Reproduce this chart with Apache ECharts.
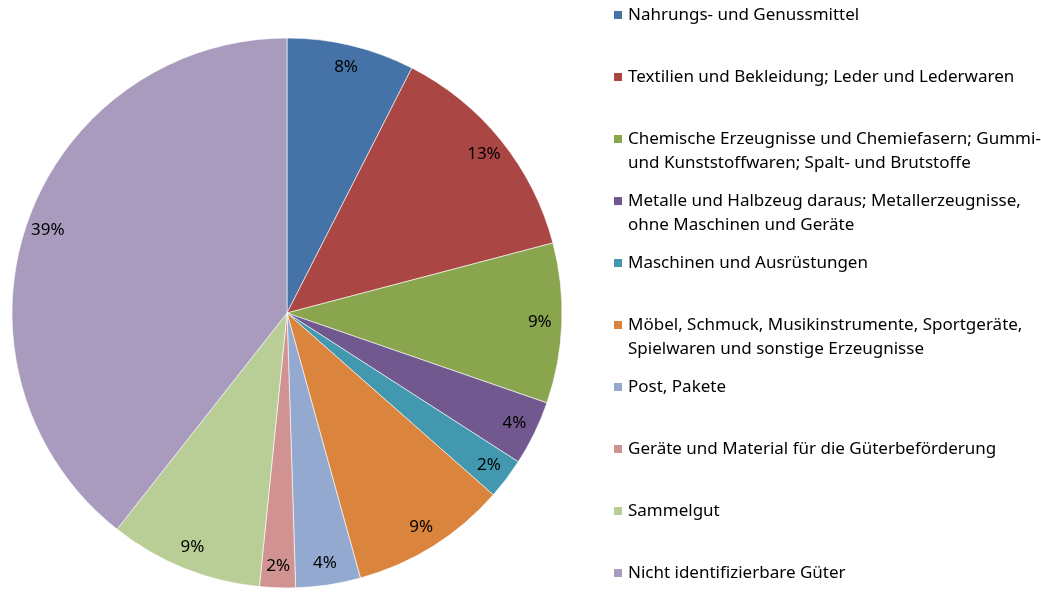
<!DOCTYPE html>
<html>
<head>
<meta charset="utf-8">
<title>Güterstruktur</title>
<style>
  html, body { margin: 0; padding: 0; background: #fff; }
  #chart { width: 1041px; height: 594px; }
</style>
<script src="https://cdn.jsdelivr.net/npm/echarts/dist/echarts.min.js"></script>
</head>
<body>
<div id="chart"></div>
<script>
// Gütergruppen (Legende), Zeilenumbruch wie im Original
const categories = [
  'Nahrungs- und Genussmittel',
  'Textilien und Bekleidung; Leder und Lederwaren',
  'Chemische Erzeugnisse und Chemiefasern; Gummi-\nund Kunststoffwaren; Spalt- und Brutstoffe',
  'Metalle und Halbzeug daraus; Metallerzeugnisse,\nohne Maschinen und Geräte',
  'Maschinen und Ausrüstungen',
  'Möbel, Schmuck, Musikinstrumente, Sportgeräte,\nSpielwaren und sonstige Erzeugnisse',
  'Post, Pakete',
  'Geräte und Material für die Güterbeförderung',
  'Sammelgut',
  'Nicht identifizierbare Güter'
]
const shares = [7.5, 13.4, 9.4, 3.8, 2.4, 9.2, 3.8, 2.1, 9.0, 39.4]
const colors = ['#4572A7', '#AA4643', '#89A54E', '#71588F', '#4198AF',
  '#DB843D', '#93A9CF', '#D19392', '#B9CD96', '#A99BBD']

const font = 'Noto Sans'
const chart = echarts.init(document.getElementById('chart'))

const pieData = categories.map((name, i) => ({ name: name, value: shares[i] }))

// eine Legende pro Eintrag, gleichmäßige Abstände wie in Excel;
// bei zweizeiligen Einträgen steht das Kästchen neben der ersten Zeile
const legends = categories.map((name, i) => {
  const twoLines = name.indexOf('\n') >= 0
  const center = 15 + 62 * i
  return {
    orient: 'vertical',
    left: 612,
    top: center - (twoLines ? 36 : 12),
    padding: 0,
    itemWidth: 10,
    itemHeight: 10,
    icon: 'rect',
    selectedMode: false,
    data: [name],
    formatter: n => (twoLines ? '\n' + n : n),
    textStyle: {
      fontFamily: font,
      fontSize: 17,
      lineHeight: 24,
      color: '#000'
    }
  }
})

chart.setOption({
  color: colors,
  animation: false,
  legend: legends,
  series: [
    {
      name: 'Anteile',
      type: 'pie',
      center: [287, 313],
      radius: [0, 275],
      startAngle: 90,
      clockwise: true,
      avoidLabelOverlap: false,
      itemStyle: { borderColor: '#fff', borderWidth: 0.6 },
      label: { show: false },
      labelLine: { show: false },
      emphasis: { disabled: true },
      data: pieData
    },
    {
      // unsichtbarer Ring nur für die Beschriftung
      name: 'Beschriftung',
      type: 'pie',
      center: [287, 313],
      radius: [225, 275],
      startAngle: 90,
      clockwise: true,
      silent: true,
      avoidLabelOverlap: false,
      itemStyle: { color: 'rgba(0,0,0,0)' },
      label: {
        show: true,
        position: 'inside',
        fontFamily: font,
        fontSize: 17,
        color: '#000',
        formatter: p => Math.round(p.percent) + '%'
      },
      labelLine: { show: false },
      emphasis: { disabled: true },
      data: pieData
    }
  ]
})
</script>
</body>
</html>
